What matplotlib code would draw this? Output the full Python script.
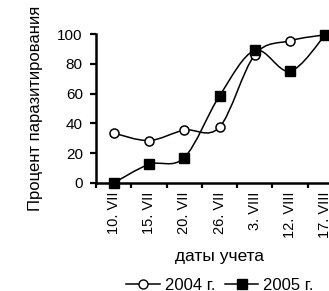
import matplotlib
matplotlib.use("Agg")
import matplotlib.pyplot as plt
from matplotlib.path import Path
from matplotlib.patches import PathPatch
from matplotlib.lines import Line2D
import numpy as np

plt.rcParams['font.family'] = ['Liberation Sans', 'DejaVu Sans']

dates = ["10. VII", "15. VII", "20. VII", "26. VII", "3. VIII", "12. VIII", "17. VIII"]
y2004 = [33.5, 28.5, 35.5, 37.5, 86, 95.5, 99.5]
y2005 = [0, 12.5, 17, 58.5, 89, 75, 99.5]

fig = plt.figure(figsize=(3.29, 2.91), dpi=100)
ax = fig.add_axes([96/329, (291-183)/291, 247/329, 149/291])

def smooth_path(xs, ys):
    pts = np.column_stack([xs, ys]).astype(float)
    n = len(pts)
    verts = [pts[0]]
    codes = [Path.MOVETO]
    for i in range(n - 1):
        p0 = pts[i - 1] if i > 0 else pts[i]
        p1 = pts[i]
        p2 = pts[i + 1]
        p3 = pts[i + 2] if i + 2 < n else pts[i + 1]
        c1 = p1 + (p2 - p0) / 6.0
        c2 = p2 - (p3 - p1) / 6.0
        verts += [c1, c2, p2]
        codes += [Path.CURVE4] * 3
    return Path(verts, codes)

x = np.arange(len(dates))
for ys in (y2004, y2005):
    ax.add_patch(PathPatch(smooth_path(x, ys), fill=False, edgecolor='black',
                           lw=1.1, zorder=3, clip_on=False))

ax.plot(x, y2004, linestyle='none', marker='o', ms=6.5, mfc='white', mec='black',
        mew=1.1, zorder=5, clip_on=False)
ax.plot(x, y2005, linestyle='none', marker='s', ms=6.5, mfc='black', mec='black',
        mew=1, zorder=6, clip_on=False)

ax.set_xlim(-0.5, len(dates) - 0.5)
ax.set_ylim(0, 100)
ax.set_yticks([0, 20, 40, 60, 80, 100])
ax.set_xticks(x)
ax.set_xticklabels(dates, rotation=90, fontsize=10.5)
ax.set_xticks(np.arange(len(dates) + 1) - 0.5, minor=True)
ax.tick_params(axis='x', which='major', length=0, pad=6)
ax.tick_params(axis='x', which='minor', length=3.5, width=1.6, direction='out')
ax.tick_params(axis='y', length=4.5, width=1.6, direction='out', labelsize=11, pad=5)
for s in ('top', 'right'):
    ax.spines[s].set_visible(False)
for s in ('left', 'bottom'):
    ax.spines[s].set_linewidth(1.8)

ax.set_ylabel("Процент паразитирования", fontsize=12)
ax.yaxis.set_label_coords(-0.215, 0.5)
ax.set_xlabel("даты учета", fontsize=12.5)
ax.xaxis.set_label_coords(0.5, -0.445)

handles = [
    Line2D([], [], color='black', lw=1.1, marker='o', ms=6.5, mfc='white', mec='black'),
    Line2D([], [], color='black', lw=1.1, marker='s', ms=6.5, mfc='black', mec='black'),
]
fig.legend(handles, ["2004 г.", "2005 г."], loc='center', bbox_to_anchor=(220/329, 1 - 285/291),
           ncol=2, frameon=False, fontsize=12, handlelength=2.0, handletextpad=0.3,
           columnspacing=0.6, borderpad=0)

fig.savefig("out.png", dpi=100)
